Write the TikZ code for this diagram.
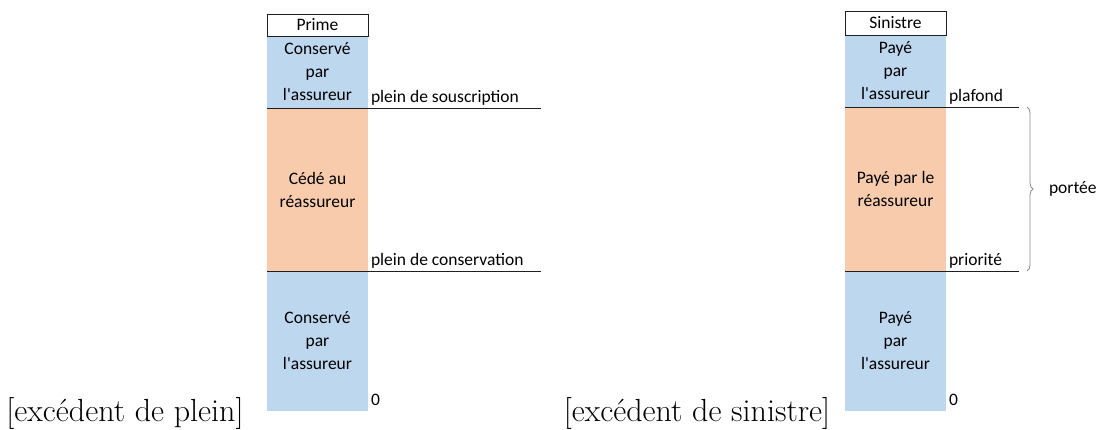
\documentclass[tikz,border=0pt]{standalone}
\usepackage{fontspec}
\newfontfamily\calib{Carlito}
\usetikzlibrary{decorations.pathreplacing}
\definecolor{keepblue}{HTML}{BDD7EE}
\definecolor{cedeorange}{HTML}{F8CBAD}
\definecolor{linegray}{HTML}{1F1F1F}
\definecolor{bracegray}{HTML}{8C8C8C}
\begin{document}
\begin{tikzpicture}[x=1pt,y=-1pt,
  every node/.style={inner sep=0pt,outer sep=0pt},
  lbl/.style={font=\calib\fontsize{17.5}{23}\selectfont},
  seg/.style={lbl,anchor=north west,minimum width=101pt,align=center},
  headbox/.style={lbl,anchor=north west,minimum width=101pt,draw=linegray,line width=1pt,fill=white},
  level/.style={draw=linegray,line width=1pt},
  tag/.style={lbl,anchor=base west},
  caption/.style={font=\fontsize{32}{36}\selectfont,anchor=base}]
\useasboundingbox (0,0) rectangle (1102,429);

% excess of line column
\node[seg,fill=keepblue,minimum height=72pt] (pa) at (267,36) {Conservé\\par\\l'assureur};
\node[seg,fill=cedeorange,minimum height=163pt] (pb) at (267,108) {Cédé au\\réassureur};
\node[seg,fill=keepblue,minimum height=140pt] (pc) at (267,271) {Conservé\\par\\l'assureur};
\node[headbox,minimum height=22pt] (ph) at (267,14) {Prime};
\coordinate (psend) at (541,108);
\coordinate (pcend) at (541,271);
\draw[level] (pb.north west) -- (psend);
\draw[level] (pc.north west) -- (pcend);
\node[tag] (pls) at (371,102) {plein de souscription};
\node[tag] (plc) at (371,265) {plein de conservation};
\node[tag] (pz) at (371,405) {0};
\node[caption] (capa) at (125,421) {[excédent de plein]};

% excess of loss column
\node[seg,fill=keepblue,minimum height=72pt] (sa) at (845,35) {Payé\\par\\l'assureur};
\node[seg,fill=cedeorange,minimum height=164pt] (sb) at (845,107) {Payé par le\\réassureur};
\node[seg,fill=keepblue,minimum height=140pt] (sc) at (845,271) {Payé\\par\\l'assureur};
\node[headbox,minimum height=24pt] (sh) at (845,11) {Sinistre};
\coordinate (ssend) at (1019,107);
\coordinate (scend) at (1019,271);
\draw[level] (sb.north west) -- (ssend);
\draw[level] (sc.north west) -- (scend);
\node[tag] (spl) at (949,101) {plafond};
\node[tag] (spr) at (949,265) {priorité};
\node[tag] (sz) at (949,405) {0};
\coordinate (bt) at (1027,107);
\coordinate (bb) at (1027,271);
\draw[bracegray,line width=0.8pt,decorate,decoration={brace,amplitude=6pt}] (bt) -- (bb);
\node[lbl,anchor=west] (port) at (1049,189) {portée};
\node[caption] (capb) at (697,421) {[excédent de sinistre]};
\end{tikzpicture}
\end{document}
